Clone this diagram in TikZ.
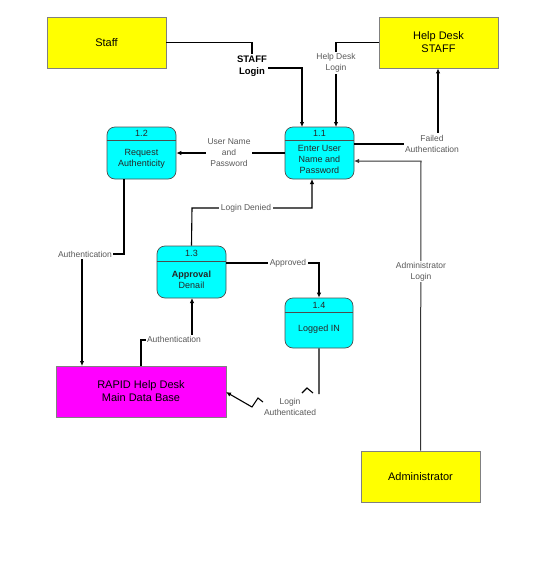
\documentclass[tikz,border=0pt]{standalone}
\usepackage{fontspec}
\setmainfont{Liberation Sans}
\usetikzlibrary{arrows.meta}
\definecolor{lblgray}{HTML}{5A5A5A}
\definecolor{boxborder}{HTML}{808080}
\definecolor{procborder}{HTML}{4D4D4D}
\definecolor{entyellow}{HTML}{FFFF00}
\definecolor{dbmagenta}{HTML}{FF00FF}
\definecolor{proccyan}{HTML}{00FFFF}
\tikzset{
  entity/.style={draw=boxborder, line width=0.8pt, fill=entyellow, minimum width=119pt, minimum height=51pt, inner sep=0pt, font=\fontsize{11}{13}\selectfont, align=center},
  dbstore/.style={draw=boxborder, line width=0.8pt, fill=dbmagenta, minimum width=170pt, minimum height=51pt, inner sep=0pt, font=\fontsize{11}{13}\selectfont, align=center},
  proc/.style={draw=procborder, line width=0.7pt, fill=proccyan, rounded corners=8pt, minimum width=69pt, minimum height=52pt, inner sep=0pt},
  ptext/.style={font=\fontsize{9}{11}\selectfont, align=center, inner sep=0pt, text=black!85},
  flow/.style={draw=black, line width=1.1pt, -{Latex[length=5pt,width=4.5pt]}},
  flowlbl/.style={fill=white, inner sep=1.5pt, font=\fontsize{8.5}{11}\selectfont, align=center, text=lblgray},
}
\begin{document}
\begin{tikzpicture}[x=1pt, y=-1pt]
\useasboundingbox (0,0) rectangle (560,574);
\fill[white] (0,0) rectangle (560,574);

% external entities
\node[entity] (staff) at (106.5,42.5) {Staff};
\node[entity] (hd) at (438.5,42.5) {Help Desk\\STAFF};
\node[entity] (admin) at (420.5,476.5) {Administrator};
\node[dbstore] (db) at (141,391.5) {RAPID Help Desk\\Main Data Base};

% processes
\node[proc] (p11) at (319.5,153) {};
\node[proc] (p12) at (141.5,153) {};
\node[proc] (p13) at (191.5,272) {};
\node[proc, minimum width=68pt, minimum height=50pt] (p14) at (319,323) {};
\draw[procborder, line width=0.7pt] ([yshift=-14pt]p11.north west) -- ([yshift=-14pt]p11.north east);
\draw[procborder, line width=0.7pt] ([yshift=-14pt]p12.north west) -- ([yshift=-14pt]p12.north east);
\draw[procborder, line width=0.7pt] ([yshift=-16pt]p13.north west) -- ([yshift=-16pt]p13.north east);
\draw[procborder, line width=0.7pt] ([yshift=-15pt]p14.north west) -- ([yshift=-15pt]p14.north east);

\node[ptext] (p11n) at (319.5,133.5) {1.1};
\node[ptext] (p11t) at (319.5,159) {Enter User\\Name and\\Password};
\node[ptext] (p12n) at (141.5,133.5) {1.2};
\node[ptext] (p12t) at (141.5,159) {Request\\Authenticity};
\node[ptext] (p13n) at (191.5,253) {1.3};
\node[ptext] (p13t) at (191.5,279.5) {\textbf{Approval}\\Denail};
\node[ptext] (p14n) at (319,305) {1.4};
\node[ptext] (p14t) at (319,329) {Logged IN};

% connectors
\draw[flow] (staff.east) -- (252,42.5) -- (252,68) -- (302,68) -- (302,127)
  node[flowlbl, text=black, font=\fontsize{9.5}{12}\selectfont\bfseries] (lstaff) at (252,66) {STAFF\\Login};
\draw[flow] (hd.west) -- (336,42.5) -- (336,127)
  node[flowlbl] (lhd) at (336,63) {Help Desk\\Login};
\draw[flow] (p11.west) -- (p12.east)
  node[flowlbl] (lup) at (229,153) {User Name\\and\\Password};
\draw[flow] (354,144) -- (438,144) -- (hd.south -| 438,0)
  node[flowlbl] (lfail) at (432,143.5) {Failed\\Authentication};
\draw[flow, draw=black!80, line width=1pt] (admin.north) -- (421,161) -- (354,161)
  node[flowlbl] (ladm) at (421,271.5) {Administrator\\Login};
\draw[flow] (p13.north) -- (192,208) -- (312,208) -- (312,179)
  node[flowlbl] (lden) at (246,208) {Login Denied};
\draw[flow] (226,263) -- (319,263) -- (p14.north)
  node[flowlbl] (lapp) at (288,263) {Approved};
\draw[flow] (124,179) -- (124,254) -- (82,254) -- (82,366)
  node[flowlbl] (lauth1) at (85,254) {Authentication};
\draw[flow] (141,366) -- (141,340) -- (192,340) -- (192,298)
  node[flowlbl, inner sep=1pt] (lauth2) at (174,339.5) {Authentication};
\draw[flow] (p14.south) -- (319,394) (313,393) -- (307,388) -- (302,393)
  (263,402) -- (258,398) -- (252,407) -- (226,392);
\node[flowlbl, fill=none] (llog) at (290,406.5) {Login\\Authenticated};
\end{tikzpicture}
\end{document}
